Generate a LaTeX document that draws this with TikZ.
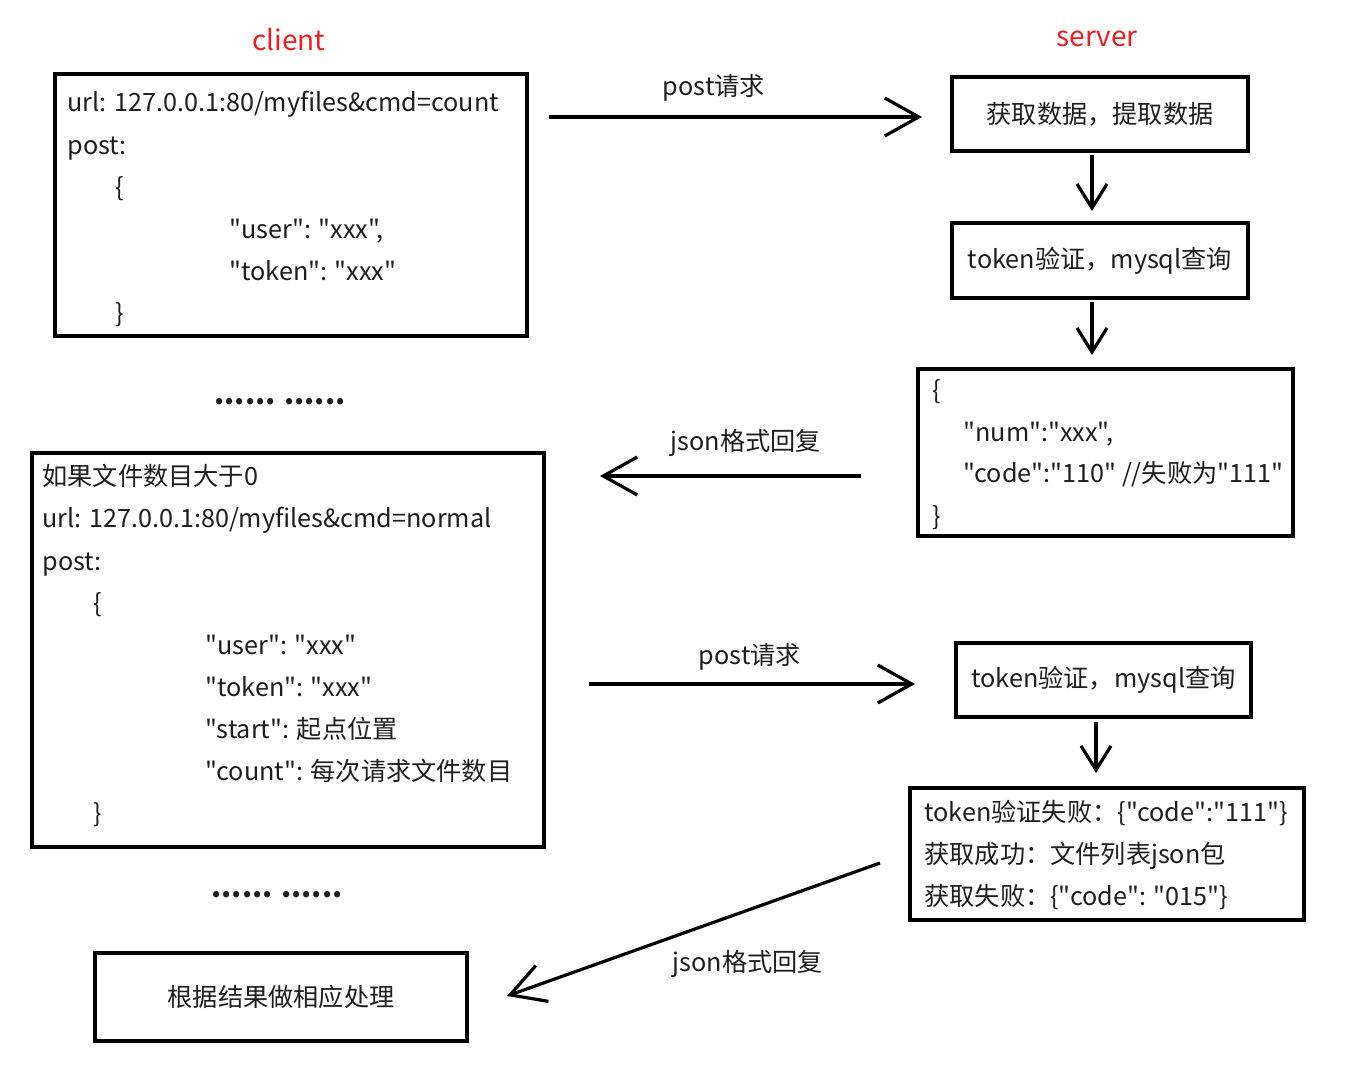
\documentclass[tikz,border=0pt]{standalone}
\usepackage{fontspec}
\setmainfont{Noto Sans CJK SC}[Ligatures=TeXOff]
\usetikzlibrary{arrows.meta}
\definecolor{txt}{RGB}{30,30,30}
\definecolor{redlbl}{RGB}{235,30,35}
\begin{document}
\begin{tikzpicture}[x=0.5pt,y=-0.5pt,
  box/.style={draw, line width=1.75pt, inner sep=0pt, font=\fontsize{12.6}{15}\selectfont, text=txt},
  tx/.style={anchor=base west, inner sep=0pt, font=\fontsize{12.6}{15}\selectfont, text=txt},
  ctx/.style={anchor=base, inner sep=0pt, font=\fontsize{12.6}{15}\selectfont, text=txt},
  ttl/.style={anchor=base, inner sep=0pt, font=\fontsize{14}{16}\selectfont, text=redlbl},
  arr/.style={line width=1.6pt, -{Straight Barb[length=17pt,width=19pt,line width=1.6pt]}},
  darr/.style={line width=1.6pt, -{Straight Barb[length=12pt,width=15pt,line width=1.6pt]}},
]
\useasboundingbox[fill=white] (0,0) rectangle (1353,1080);

% titles
\node[ttl] (tclient) at (289,51) {client};
\node[ttl] (tserver) at (1097,47) {server};

% client box 1
\node[box, minimum width=236pt, minimum height=131pt] (c1) at (291,205) {};
\node[tx] (c1a) at (67,112) {url: 127.0.0.1:80/myfiles\&cmd=count};
\node[tx] (c1b) at (67,155) {post:};
\node[tx] (c1c) at (115,197) {\{};
\node[tx] (c1d) at (229,239) {"user": "xxx",};
\node[tx] (c1e) at (229,281) {"token": "xxx"};
\node[tx] (c1f) at (115,323) {\}};

% server boxes
\node[box, minimum width=148pt, minimum height=37pt] (s1) at (1100,114) {获取数据，提取数据};
\node[box, minimum width=148pt, minimum height=37.5pt] (s2) at (1100,260.5) {token验证，mysql查询};
\node[box, minimum width=187.5pt, minimum height=83.5pt] (s3) at (1105.5,452.5) {};
\node[tx] (s3a) at (932,399) {\{};
\node[tx] (s3b) at (963,441) {"num":"xxx",};
\node[tx] (s3c) at (963,482) {"code":"110" //失败为"111"};
\node[tx] (s3d) at (932,525) {\}};

% dots
\node[ctx, font=\fontsize{14.5}{16}\bfseries] (dots1) at (280,404) {...... ......};

% client box 2
\node[box, minimum width=256pt, minimum height=197pt] (c2) at (288,650) {};
\node[tx] (c2a) at (42,485) {如果文件数目大于0};
\node[tx] (c2b) at (42,527) {url: 127.0.0.1:80/myfiles\&cmd=normal};
\node[tx] (c2c) at (42,570) {post:};
\node[tx] (c2d) at (93,612) {\{};
\node[tx] (c2e) at (205,654) {"user": "xxx"};
\node[tx] (c2f) at (205,696) {"token": "xxx"};
\node[tx] (c2g) at (205,738) {"start": 起点位置};
\node[tx] (c2h) at (205,780) {"count": 每次请求文件数目};
\node[tx] (c2i) at (93,822) {\}};

% server boxes lower
\node[box, minimum width=147.5pt, minimum height=37pt] (s4) at (1103.5,680) {token验证，mysql查询};
\node[box, minimum width=197pt, minimum height=66pt] (s5) at (1107,854) {};
\node[tx] (s5a) at (924,821) {token验证失败：\{"code":"111"\}};
\node[tx] (s5b) at (924,863) {获取成功：文件列表json包};
\node[tx] (s5c) at (924,905) {获取失败：\{"code": "015"\}};

\node[ctx, font=\fontsize{14.5}{16}\bfseries] (dots2) at (277,897) {...... ......};

% final client box
\node[box, minimum width=186pt, minimum height=44pt] (c3) at (281,997) {根据结果做相应处理};

% connector end points
\coordinate (a1s) at (549,117);
\coordinate (a1e) at (922,117);
\coordinate (d1s) at (1092,155);
\coordinate (d1e) at (1092,211);
\coordinate (d2s) at (1092,302);
\coordinate (d2e) at (1092,355);
\coordinate (a2s) at (861,476);
\coordinate (a2e) at (600,476);
\coordinate (a3s) at (589,684);
\coordinate (a3e) at (915,684);
\coordinate (d3s) at (1096,722);
\coordinate (d3e) at (1096,773);
\coordinate (a4s) at (880,863);
\coordinate (a4e) at (507,996);

% connectors
\draw[arr] (a1s) -- (a1e);
\draw[darr] (d1s) -- (d1e);
\draw[darr] (d2s) -- (d2e);
\draw[arr] (a2s) -- (a2e);
\draw[arr] (a3s) -- (a3e);
\draw[darr] (d3s) -- (d3e);
\draw[arr] (a4s) -- (a4e);

% connector labels
\node[ctx] (l1) at (714,96) {post请求};
\node[ctx] (l2) at (746,450) {json格式回复};
\node[ctx] (l3) at (750,664) {post请求};
\node[ctx] (l4) at (748,971) {json格式回复};
\end{tikzpicture}
\end{document}
